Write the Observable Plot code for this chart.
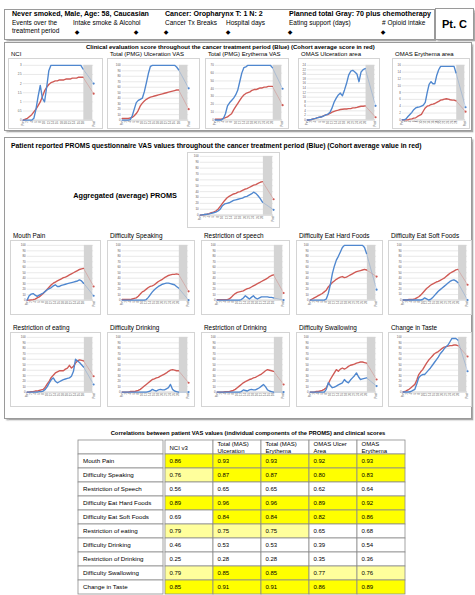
<!DOCTYPE html>
<html>
<head>
<meta charset="utf-8">
<script src="https://cdn.jsdelivr.net/npm/d3@7"></script>
<script src="https://cdn.jsdelivr.net/npm/@observablehq/plot@0.6"></script>
<style>
  html,body{margin:0;padding:0;background:#fff;}
  #root{position:relative;width:475px;height:595px;overflow:hidden;font-family:"Liberation Sans",Arial,sans-serif;color:#000;}
  .t{position:absolute;white-space:nowrap;line-height:1;color:#000;}
  .frame{position:absolute;border:1px solid #9a9a9a;box-shadow:1.5px 1.5px 1.5px #a8a8a8;background:#fff;box-sizing:border-box;}
  .panel{position:absolute;border:1px solid #d4d4d4;background:#fff;box-sizing:border-box;}
  .panel svg{position:absolute;left:-1px;top:-1px;}
  .tbl{position:absolute;}
  .tbl svg{position:absolute;top:0;}
</style>
</head>
<body>
<div id="root"></div>
<script>
// ---------------- DATA ----------------
// visit index of the follow-up measurement (treatment visits are 0..28)
const followUpVisit = 33;
const postTreatmentPeriod = {start: 28.4, end: 32.6};

// Clinical scores: patient (blue) / cohort average (red); last value = follow-up
const nciPatient   = [0,0,0,0,0,0.1,0.6,1.3,1.9,1.2,1.0,1.8,2.7,3,3,3,3,3,3,3,3,3,3,3,3,3,3,3,2.8, 2.0];
const nciCohort    = [0,0.05,0.1,0.2,0.3,0.45,0.6,0.8,1.0,1.3,1.6,1.8,1.95,2.05,2.1,2.15,2.15,2.2,2.2,2.2,2.25,2.25,2.25,2.3,2.3,2.3,2.35,2.35,2.35, 1.45];
const ulcVasPatient = [0,0,0,0,1,8,20,32,36,38,40,52,68,85,98,100,100,100,100,100,100,100,100,100,100,100,100,97,92, 58];
const ulcVasCohort  = [3,3,3,3,4,5,8,12,18,26,31,35,38,40,42,43,44,45,46,47,48,49,50,51,52,53,54,55,55, 20];
const eryVasPatient = [0,0,0,0,2,8,18,22,25,28,32,38,49,60,67,68,70,70,70,70,70,70,70,70,70,70,70,70,67, 40];
const eryVasCohort  = [1,1,1,1,2,3,4,6,8,13,17,21,25,29,32,34,35,36,38,39,39,40,41,41,42,42,43,43,43, 19];
const omasUlcPatient = [0,0,0.2,0.5,0.7,1,1.2,1.4,1.8,2.2,2.6,3.4,5.3,7.9,9.6,11,11.8,10.6,13.2,16.1,19.7,21.4,21.8,21.1,20.2,16.8,21.1,22.1,22.6, 6.2];
const omasUlcCohort  = [0,0,0.2,0.5,0.7,1,1.2,1.4,1.9,2.2,2.4,2.9,3.4,3.8,4.1,4.3,4.6,4.7,4.8,4.8,5,5,5.3,5.3,5.5,5.8,6,6,6.2, 1.2];
const omasEryPatient = [0,0,0.3,1,1.6,2.2,3,3.5,3.7,3.8,4,4.3,5.1,8,10.4,11.2,10.6,10.6,13.1,14.7,15.7,15.7,15.7,15.7,15.7,15.7,15.7,15.7,13.8, 3.7];
const omasEryCohort  = [0,0,0,0,0.2,0.3,0.5,0.6,1,1.3,1.6,2.6,3.5,4,4.2,4.5,4.6,4.8,5.1,5.4,5.8,5.9,6.1,6.2,6.1,5.9,5.8,5.8,5.6, 2.4];

// PROMS VAS (0-100)
const aggPatient = [0,0.5,1,1.5,2,3,4,5,7,10,16,19,20,21,23,25,26,27,28,29,31,32,34,36,39,37,33,28,22, 9];
const aggCohort  = [0,0.5,1,1.5,2.5,4,5,7,10,15,20,25,29,32,34,36,37,39,40,42,44,45,47,49,51,52,54,56,57, 27];
const mouthPainPatient = [0,8,11,12,9,7,9,11,13,16,19,21,23,26,28,25,25,27,28,29,30,31,32,33,34,35,37,35,31, 8];
const mouthPainCohort  = [0,0,0.5,1,2,4,6,9,12,16,20,24,28,31,33,35,37,39,41,42,44,46,48,50,52,54,56,57,58, 25];
const speakPatient = [0,0,0,0,0,0,0,0,0,0,0,0,1,5,10,15,19,22,25,27,29,30,31,31,30,29,28,25,22, 0];
const speakCohort  = [1,1,1,1,1,2,3,4,7,11,15,17,20,23,25,26,28,31,34,36,38,41,43,45,46,47,47,48,47, 16];
const restrSpeechPatient = [0,0,0,0,0,0,0,0,0,0,0,0,1,4,8,5,2,5,8,4,2,4,6,6,6,6,5,5,4, 0];
const restrSpeechCohort  = [1,1,1,1,1,1,2,5,9,12,14,15,16,17,19,21,22,24,26,28,30,32,34,36,38,40,43,45,46, 13];
const hardFoodPatient = [0,0,0,0,0,0,0,0,2,12,28,48,62,73,80,88,96,100,100,100,100,100,100,100,100,100,100,96,85, 19];
const hardFoodCohort  = [0,2,4,6,8,10,12,15,18,24,28,32,35,38,40,42,43,41,42,44,46,48,50,52,53,54,55,56,55, 43];
const softFoodPatient = [0,0,0,0,0,0,0,0,0,0,1,4,2,0,1,4,8,12,16,19,22,25,28,31,34,36,37,35,32, 0];
const softFoodCohort  = [0,0,0,1,1,1,2,4,6,9,13,17,21,24,27,29,31,33,34,36,38,40,43,46,49,51,53,55,56, 28];
const restrEatPatient = [0,0,0,0,0,0,1,1,2,5,10,17,23,26,20,17,19,21,23,24,25,26,29,38,60,57,54,50,46, 14];
const restrEatCohort  = [0,0,1,1,2,2,3,4,5,9,15,20,27,31,35,37,39,39,39,42,44,49,44,47,53,57,59,58,57, 29];
const drinkPatient = [0,0,0,0,0,0,0,0,0,0,0,0,0,1,2,5,3,2,4,5,4,4,6,8,14,5,2,1,0, 0];
const drinkCohort  = [0,0,0,0,1,1,1,2,3,5,8,11,14,17,20,23,24,26,27,29,31,33,35,38,40,41,40,39,39, 17];
const restrDrinkPatient = [0,0,0,0,0,0,0,0,0,0,0,0,1,4,3,2,4,5,4,4,6,8,11,14,10,4,2,1,0, 0];
const restrDrinkCohort  = [0,0,0,0,1,1,1,2,3,5,8,11,14,17,19,21,23,24,26,27,29,31,33,36,39,41,40,39,38, 14];
const swallowPatient = [0,0,0,0,0,0,0,0,5,17,12,8,9,11,13,15,17,23,19,17,22,26,30,35,28,23,24,25,26, 11];
const swallowCohort  = [0,0,0,1,1,2,3,5,8,15,23,29,35,41,38,42,44,42,44,47,49,50,51,53,54,55,55,54,53, 23];
const tastePatient = [0,0,0,0,1,3,5,15,26,30,32,32,36,40,44,49,54,59,64,70,74,79,83,86,92,98,98,98,95, 38];
const tasteCohort  = [0,1,3,5,8,11,14,22,32,37,41,47,53,58,62,66,70,72,74,77,80,82,83,84,85,85,86,86,85, 65];

// Correlation table
const tableRows = ["Mouth Pain","Difficulty Speaking","Restriction of Speech","Difficulty Eat Hard Foods","Difficulty Eat Soft Foods","Restriction of eating","Difficulty Drinking","Restriction of Drinking","Difficulty Swallowing","Change in Taste"];
const tableCols = ["NCI v3","Total (MAS)\nUlceration","Total (MAS)\nErythema","OMAS Ulcer\nArea","OMAS\nErythema"];
const corrNCI     = [0.86,0.76,0.56,0.89,0.69,0.79,0.46,0.25,0.79,0.85];
const corrUlcMAS  = [0.93,0.87,0.65,0.96,0.84,0.75,0.53,0.28,0.85,0.91];
const corrEryMAS  = [0.93,0.87,0.65,0.96,0.84,0.75,0.53,0.28,0.85,0.91];
const corrOmasUlc = [0.92,0.80,0.62,0.89,0.82,0.65,0.39,0.35,0.77,0.86];
const corrOmasEry = [0.93,0.83,0.64,0.92,0.86,0.68,0.54,0.36,0.76,0.89];

// ---------------- LAYOUT / DRAW ----------------
const FONT = '"Liberation Sans", Arial, sans-serif';
const BLUE = "#4f87cf", RED = "#cf5a55";
const root = document.getElementById("root");

function addDiv(cls, x, y, w, h) {
  const d = document.createElement("div");
  d.className = cls;
  d.style.left = x + "px"; d.style.top = y + "px";
  if (w != null) d.style.width = w + "px";
  if (h != null) d.style.height = h + "px";
  root.appendChild(d);
  return d;
}
function addText(str, x, y, size, bold, align, w) {
  const d = addDiv("t", x, y - size / 2, w, null);
  d.textContent = str;
  d.style.fontSize = size + "px";
  if (bold) d.style.fontWeight = "bold";
  if (align === "right") { d.style.transform = "translateX(-100%)"; }
  if (align === "center") { d.style.textAlign = "center"; }
  return d;
}

// Header box
addDiv("frame", 4, 9, 431, 31);
addDiv("frame", 435, 8, 39, 32);
addText("Pt. C", 435, 24, 11, true, "center", 39);
const headerBold = [["Never smoked, Male, Age: 58, Caucasian", 12], ["Cancer: Oropharynx T: 1 N: 2", 165], ["Planned total Gray: 70 plus chemotherapy", 289]];
const headerItems = [["Events over the", 12], ["Intake smoke & Alcohol", 73], ["Cancer Tx Breaks", 165], ["Hospital days", 226], ["Eating support (days)", 289], ["# Opioid intake", 382]];
const headerMarks = [77, 136, 166, 228, 290, 383];
headerBold.forEach(([s, x]) => addText(s, x, 15, 7.1, true));
headerItems.forEach(([s, x]) => addText(s, x, 23.5, 6.5, false));
addText("treatment period", 12, 31.5, 6.5, false);
headerMarks.forEach(x => { const d = addText("\u25C6", x, 31.5, 6, false); d.style.transform = "translateX(-50%)"; d.style.fontFamily = "DejaVu Sans"; });

// Section frames
addDiv("frame", 4, 42, 468, 89);
addDiv("frame", 4, 137, 468, 282);
addText("Clinical evaluation score throughout the cancer treatment period (Blue) (Cohort average score in red)", 86, 47, 6, true);
addText("Patient reported PROMS questionnaire VAS values throughout the cancer treatment period (Blue) (Cohort average value in red)", 11, 146, 6.8, true);
addText("Aggregated (average) PROMS", 177, 196, 7.3, true, "right");

const visitTicks = [...d3.range(0, 29, 2), followUpVisit];
const visitLabel = i => i === 0 ? "Pre" : i === followUpVisit ? "Post" : String(i);

function lineChart(c) {
  const n = c.patient.length - 1;
  const pts = arr => arr.map((v, i) => ({visit: i < n ? i : followUpVisit, v}));
  const p = pts(c.patient), q = pts(c.cohort);
  const yTicks = d3.range(0, c.yMax + c.yStep / 2, c.yStep);
  const series = (data, color) => [
    Plot.line(data.slice(0, n), {x: "visit", y: "v", stroke: color, strokeWidth: 1.4}),
    Plot.line(data.slice(n - 1), {x: "visit", y: "v", stroke: color, strokeWidth: 0.7, strokeOpacity: 0.45}),
    Plot.dot(data.slice(n), {x: "visit", y: "v", r: 1.1, fill: color})
  ];
  const svg = Plot.plot({
    width: c.w, height: c.h,
    marginLeft: c.ml, marginRight: c.mr, marginTop: c.mt, marginBottom: c.mb,
    style: {fontFamily: FONT, fontSize: "3px", background: "transparent", color: "#595959", overflow: "visible"},
    x: {domain: [0, followUpVisit], axis: null},
    y: {domain: [0, c.yMax], axis: null},
    marks: [
      Plot.gridY(yTicks, {stroke: "#d9d9d9", strokeOpacity: 1, strokeWidth: 0.6}),
      Plot.rect([postTreatmentPeriod], {x1: "start", x2: "end", fill: "#d4d4d4"}),
      Plot.ruleY([0], {stroke: "#bfbfbf", strokeWidth: 0.6}),
      Plot.axisY(yTicks, {tickSize: 0, tickPadding: 1.5, fontSize: 3, label: null, tickFormat: d => String(d)}),
      Plot.axisX(visitTicks, {tickSize: 0, tickPadding: 1, fontSize: 2.8, tickRotate: -90, label: null, tickFormat: visitLabel}),
      ...series(q, RED),
      ...series(p, BLUE)
    ]
  });
  const panel = addDiv("panel", c.x, c.y, c.w, c.h);
  panel.appendChild(svg);
  if (c.title) addText(c.title, c.x + 3, c.y - 3.8, c.titleSize, false);
}

// Clinical row
const clin = {y: 58, h: 71, mt: 7, mb: 8, titleSize: 6};
[
  {title: "NCI", patient: nciPatient, cohort: nciCohort, yMax: 3, yStep: 0.5, x: 8, w: 95, ml: 15, mr: 8},
  {title: "Total (PMG) Ulceration VAS", patient: ulcVasPatient, cohort: ulcVasCohort, yMax: 100, yStep: 10, x: 107, w: 93, ml: 15, mr: 10},
  {title: "Total (PMG) Erythema VAS", patient: eryVasPatient, cohort: eryVasCohort, yMax: 70, yStep: 10, x: 205, w: 84, ml: 10, mr: 5},
  {title: "OMAS Ulceration area", patient: omasUlcPatient, cohort: omasUlcCohort, yMax: 24, yStep: 2, x: 298, w: 82, ml: 9, mr: 3},
  {title: "OMAS Erythema area", patient: omasEryPatient, cohort: omasEryCohort, yMax: 16, yStep: 2, x: 392, w: 78, ml: 10, mr: 3}
].forEach(c => lineChart({...clin, ...c}));

// Aggregated
lineChart({patient: aggPatient, cohort: aggCohort, yMax: 100, yStep: 10, x: 187, y: 152, w: 93, h: 76, ml: 13, mr: 5, mt: 4, mb: 12});

// PROMS rows
const promCols = [{x: 10, w: 91, ml: 17, mr: 6}, {x: 107, w: 88, ml: 15, mr: 5}, {x: 201, w: 89, ml: 16, mr: 5}, {x: 296, w: 87, ml: 14, mr: 5}, {x: 388, w: 84, ml: 15, mr: 3}];
const rowA = [
  ["Mouth Pain", mouthPainPatient, mouthPainCohort],
  ["Difficulty Speaking", speakPatient, speakCohort],
  ["Restriction of speech", restrSpeechPatient, restrSpeechCohort],
  ["Difficulty Eat Hard Foods", hardFoodPatient, hardFoodCohort],
  ["Difficulty Eat Soft Foods", softFoodPatient, softFoodCohort]
];
const rowB = [
  ["Restriction of eating", restrEatPatient, restrEatCohort],
  ["Difficulty Drinking", drinkPatient, drinkCohort],
  ["Restriction of Drinking", restrDrinkPatient, restrDrinkCohort],
  ["Difficulty Swallowing", swallowPatient, swallowCohort],
  ["Change in Taste", tastePatient, tasteCohort]
];
[[rowA, 240], [rowB, 332]].forEach(([row, y]) => {
  row.forEach(([title, p, q], i) => lineChart({...promCols[i], title, titleSize: 6.4, patient: p, cohort: q, yMax: 100, yStep: 10, y, h: 75, mt: 5, mb: 14}));
});

// Correlation table
addText("Correlations between patient VAS values (individual components of the PROMS) and clinical scores", 48, 434, 5.8, true, "center", 400);
const corrCols = [corrNCI, corrUlcMAS, corrEryMAS, corrOmasUlc, corrOmasEry];
const cells = [];
corrCols.forEach((vals, j) => vals.forEach((v, i) => cells.push({col: tableCols[j], row: tableRows[i], v})));
const yDom = ["header", ...tableRows];
const tblH = 157, lblW = 85, valW = 243;
const level = v => v >= 0.8 ? "strong" : v >= 0.75 ? "moderate" : "weak";
const tblStyle = {fontFamily: FONT, background: "transparent", color: "#000", overflow: "visible"};
const lblPlot = Plot.plot({
  width: lblW, height: tblH, margin: 0, style: tblStyle,
  x: {type: "band", domain: ["label"], axis: null, padding: 0},
  y: {type: "band", domain: yDom, axis: null, padding: 0},
  marks: [
    Plot.cell(yDom, {x: () => "label", y: d => d, fill: "white", stroke: "#8c8c8c", strokeWidth: 0.8, inset: 0}),
    Plot.text(tableRows, {x: () => "label", y: d => d, text: d => d, textAnchor: "start", dx: -38, fontSize: 6.2, fill: "#000"})
  ]
});
const valPlot = Plot.plot({
  width: valW, height: tblH, margin: 0, style: tblStyle,
  x: {type: "band", domain: tableCols, axis: null, padding: 0},
  y: {type: "band", domain: yDom, axis: null, padding: 0},
  color: {domain: ["strong", "moderate", "weak"], range: ["#ffff00", "#ffff9c", "#ffffff"]},
  marks: [
    Plot.cell(tableCols, {x: d => d, y: () => "header", fill: "white", stroke: "#8c8c8c", strokeWidth: 0.8, inset: 0}),
    Plot.text(tableCols, {x: d => d, y: () => "header", text: d => d, textAnchor: "start", dx: -20, fontSize: 6, lineHeight: 1.1, fill: "#000"}),
    Plot.cell(cells, {x: "col", y: "row", fill: d => level(d.v), stroke: "#8c8c8c", strokeWidth: 0.8, inset: 0}),
    Plot.text(cells, {x: "col", y: "row", text: d => d.v.toFixed(2), textAnchor: "start", dx: -20, fontSize: 6, fill: "#000"})
  ]
});
const tbl = addDiv("tbl", 78, 438, lblW + valW, tblH);
lblPlot.style.left = "0px"; valPlot.style.left = lblW + "px";
tbl.appendChild(lblPlot); tbl.appendChild(valPlot);
</script>
</body>
</html>
